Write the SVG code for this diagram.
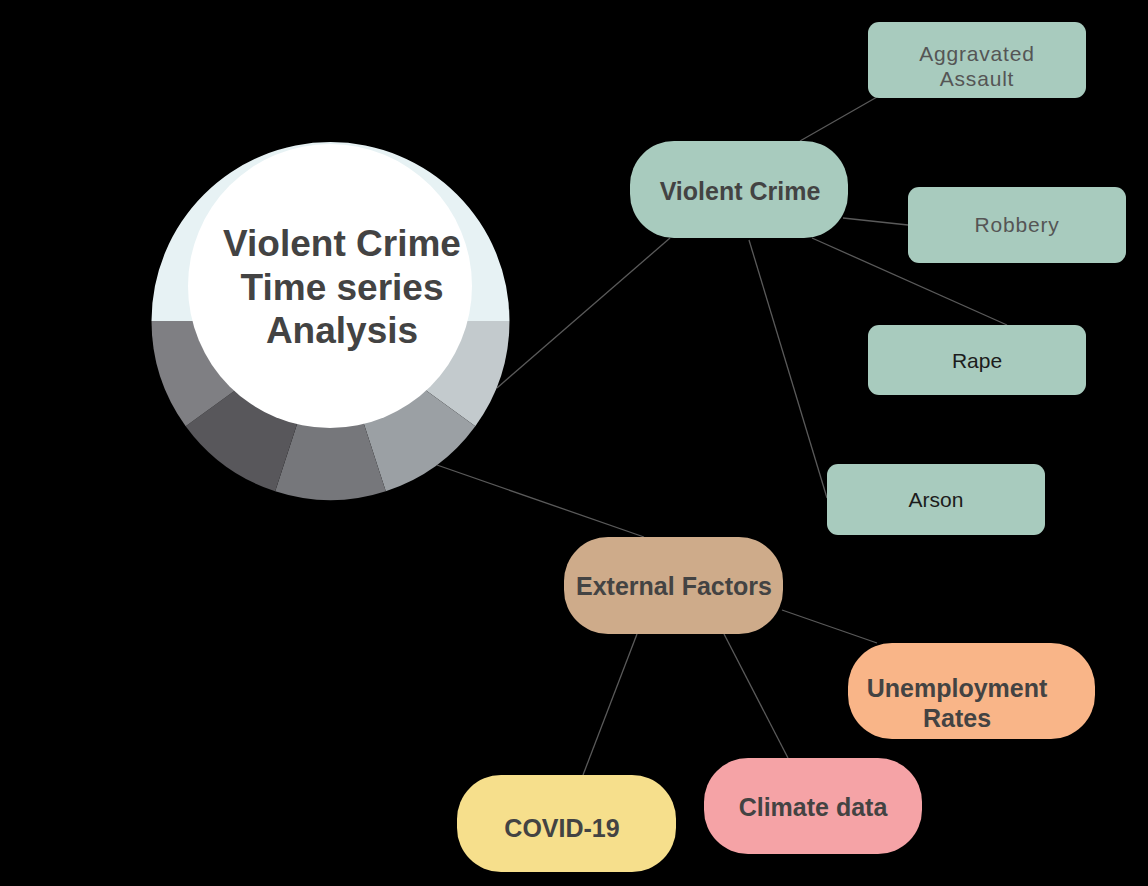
<svg xmlns="http://www.w3.org/2000/svg" width="1148" height="886" viewBox="0 0 1148 886">
<style>
.bg{fill:#000}
.lnk{stroke:#5a5a5a;stroke-width:1.3;fill:none}
.green{fill:#A8CBBE}
.tan{fill:#CEAB8A}
.orange{fill:#F9B588}
.pink{fill:#F5A3A6}
.yellow{fill:#F6DF8C}
.bold{font-family:"Liberation Sans",Arial,sans-serif;font-weight:bold;fill:#434343;text-anchor:middle}
.reg{font-family:"Liberation Sans",Arial,sans-serif;font-size:21px;text-anchor:middle}
.soft{fill:#555555;letter-spacing:0.8px}
.dark{fill:#1c1c1c}
</style>
<rect class="bg" x="0" y="0" width="1148" height="886"/>
<g id="connectors">
<line class="lnk" x1="497" y1="388" x2="670" y2="238"/>
<line class="lnk" x1="437" y1="465" x2="644" y2="537"/>
<line class="lnk" x1="800" y1="141" x2="877" y2="97"/>
<line class="lnk" x1="843" y1="218" x2="908" y2="225"/>
<line class="lnk" x1="812" y1="238" x2="1007" y2="325"/>
<line class="lnk" x1="749" y1="240" x2="827" y2="498"/>
<line class="lnk" x1="782" y1="610" x2="877" y2="643"/>
<line class="lnk" x1="724" y1="634" x2="788" y2="758"/>
<line class="lnk" x1="637" y1="634" x2="583" y2="775"/>
</g>
<g id="center">
<path d="M151.5,321 A179,179 0 0 1 509.5,321 Z" fill="#E7F2F4"/>
<path d="M330.5,321 L509.5,321 A179,179 0 0 1 475.3,426.2 Z" fill="#C3CACD"/>
<path d="M330.5,321 L475.3,426.2 A179,179 0 0 1 385.8,491.2 Z" fill="#9BA0A4"/>
<path d="M330.5,321 L385.8,491.2 A179,179 0 0 1 275.2,491.2 Z" fill="#76777B"/>
<path d="M330.5,321 L275.2,491.2 A179,179 0 0 1 185.7,426.2 Z" fill="#58575B"/>
<path d="M330.5,321 L185.7,426.2 A179,179 0 0 1 151.5,321 Z" fill="#7F7F83"/>
<circle cx="330" cy="286" r="142" fill="#FFFFFF"/>
<text class="bold" font-size="37" x="342" y="256">Violent Crime</text>
<text class="bold" font-size="37" x="342" y="300">Time series</text>
<text class="bold" font-size="37" x="342" y="343">Analysis</text>
</g>
<g id="violent-crime">
<rect class="green" x="630" y="141" width="218" height="97" rx="44"/>
<text class="bold" font-size="25" x="740" y="200">Violent Crime</text>
</g>
<g id="aggravated-assault">
<rect class="green" x="868" y="22" width="218" height="76" rx="11"/>
<text class="reg soft" x="977" y="61">Aggravated</text>
<text class="reg soft" x="977" y="86">Assault</text>
</g>
<g id="robbery">
<rect class="green" x="908" y="187" width="218" height="76" rx="11"/>
<text class="reg soft" x="1017" y="232">Robbery</text>
</g>
<g id="rape">
<rect class="green" x="868" y="325" width="218" height="70" rx="11"/>
<text class="reg dark" x="977" y="368">Rape</text>
</g>
<g id="arson">
<rect class="green" x="827" y="464" width="218" height="71" rx="11"/>
<text class="reg dark" x="936" y="507">Arson</text>
</g>
<g id="external-factors">
<rect class="tan" x="564" y="537" width="219" height="97" rx="44"/>
<text class="bold" font-size="25" x="674" y="595">External Factors</text>
</g>
<g id="unemployment-rates">
<rect class="orange" x="848" y="643" width="247" height="96" rx="44"/>
<text class="bold" font-size="25" x="957" y="697">Unemployment</text>
<text class="bold" font-size="25" x="957" y="727">Rates</text>
</g>
<g id="climate-data">
<rect class="pink" x="704" y="758" width="218" height="96" rx="44"/>
<text class="bold" font-size="25" x="813" y="816">Climate data</text>
</g>
<g id="covid-19">
<rect class="yellow" x="457" y="775" width="219" height="97" rx="44"/>
<text class="bold" font-size="25" x="562" y="837">COVID-19</text>
</g>
</svg>
